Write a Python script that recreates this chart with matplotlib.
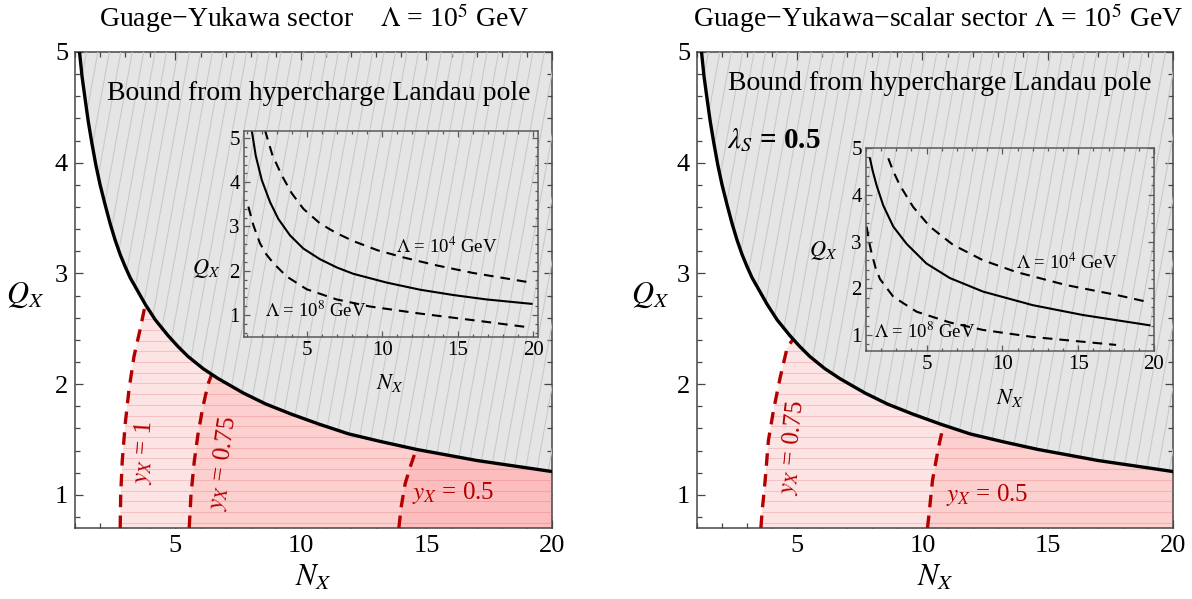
import numpy as np
import matplotlib
matplotlib.use("Agg")
import matplotlib.pyplot as plt
from matplotlib.patches import Polygon
from matplotlib.collections import LineCollection
from matplotlib.ticker import MultipleLocator

plt.rcParams['font.family'] = ['Liberation Serif', 'DejaVu Serif']
plt.rcParams['mathtext.fontset'] = 'stix'
plt.rcParams['lines.scale_dashes'] = False

# ---------------------------------------------------------------- data
# hypercharge Landau-pole bound for Lambda = 1e5 GeV (main panels)
bound_N = [1.18, 1.28, 1.4, 1.53, 1.67, 1.83, 2.0, 2.2, 2.4, 2.6, 2.8, 3.0, 3.2, 3.5, 3.8,
           4.2, 4.7, 5.1, 5.5, 6.1, 6.7, 7.7, 8.6, 9.6, 10.7, 11.9, 13.2, 14.6, 15.8,
           17.0, 18.5, 20.0]
bound_Q = [5.0, 4.78, 4.58, 4.37, 4.18, 3.98, 3.8, 3.62, 3.45, 3.3, 3.17, 3.06, 2.96, 2.84, 2.72,
           2.58, 2.44, 2.34, 2.25, 2.14, 2.05, 1.92, 1.82, 1.73, 1.64, 1.55, 1.48, 1.41, 1.36,
           1.31, 1.26, 1.21]

# Yukawa contours, gauge-Yukawa sector
gy_labels = ['1', '0.75', '0.5']
gy_N = [[2.8, 2.82, 2.88, 3.0, 3.15, 3.35, 3.6, 3.8],
        [5.55, 5.62, 5.75, 5.9, 6.1, 6.3, 6.45],
        [13.9, 14.0, 14.15, 14.35, 14.5, 14.6]]
gy_Q = [[0.7, 1.0, 1.3, 1.64, 1.95, 2.25, 2.5, 2.72],
        [0.7, 1.0, 1.3, 1.55, 1.8, 2.0, 2.09],
        [0.7, 0.9, 1.1, 1.25, 1.35, 1.41]]

# Yukawa contours, gauge-Yukawa-scalar sector (lambda_S = 0.5)
gys_labels = ['0.75', '0.5']
gys_N = [[3.55, 3.6, 3.72, 3.85, 4.05, 4.32, 4.6, 4.85],
         [10.2, 10.25, 10.4, 10.64, 10.84]]
gys_Q = [[0.7, 0.85, 1.13, 1.49, 1.76, 2.06, 2.33, 2.41],
         [0.7, 0.8, 1.13, 1.43, 1.63]]

# insets: Landau-pole bound for three cut-off scales
insL_mid_N = [1.33, 1.6, 2.0, 2.55, 3.1, 3.87, 4.76, 5.86, 7.0, 8.07, 10.3, 12.5, 14.7, 16.9, 19.9]
insL_mid_Q = [5.18, 4.6, 4.05, 3.55, 3.17, 2.8, 2.5, 2.26, 2.07, 1.93, 1.73, 1.57, 1.45, 1.35, 1.25]
insL_hi_N = [2.21, 2.7, 3.32, 3.99, 4.76, 5.86, 6.9, 8.07, 9.7, 11.4, 13.6, 16.0, 19.7]
insL_hi_Q = [5.18, 4.62, 4.16, 3.75, 3.4, 3.07, 2.86, 2.67, 2.46, 2.3, 2.12, 1.95, 1.74]
insL_lo_N = [1.11, 1.44, 1.88, 2.3, 2.77, 3.65, 4.98, 6.97, 9.18, 12.5, 16.5, 19.7]
insL_lo_Q = [3.45, 3.03, 2.62, 2.37, 2.17, 1.87, 1.58, 1.35, 1.19, 1.03, 0.86, 0.72]

insR_mid_N = [1.26, 1.45, 1.70, 2.14, 2.80, 3.68, 4.99, 6.53, 8.72, 12.0, 15.3, 19.7]
insR_mid_Q = [4.78, 4.5, 4.2, 3.77, 3.32, 2.95, 2.53, 2.22, 1.93, 1.64, 1.43, 1.21]
insR_hi_N = [2.47, 2.8, 3.24, 4.11, 5.21, 6.74, 8.72, 10.9, 14.2, 17.5, 19.7]
insR_hi_Q = [4.78, 4.5, 4.2, 3.74, 3.32, 2.93, 2.60, 2.35, 2.07, 1.86, 1.70]
insR_lo_N = [1.04, 1.2, 1.37, 1.62, 1.92, 2.80, 4.34, 6.53, 8.72, 12.0, 17.5]
insR_lo_Q = [3.32, 3.0, 2.75, 2.45, 2.2, 1.82, 1.5, 1.27, 1.11, 0.96, 0.79]

x_ticks = [5, 10, 15, 20]
y_ticks = [1, 2, 3, 4, 5]

# ---------------------------------------------------------------- style
W, H = 1192, 599
RED = '#b30000'
GRAY_FILL = '#e5e5e5'
GRAY_LINE = '#c8c8c8'
PINKS = ['#fde4e4', '#fdd0d0', '#fbbdbd']
FRAME = '#454545'
YLIM = (0.7, 4.965)
XLIM = (1, 20)


def box(l, t, r, b):
    return [l / W, 1 - b / H, (r - l) / W, (b - t) / H]


def style_frame(ax, major_len, minor_len, labelsize, pad, color=FRAME):
    for s in ax.spines.values():
        s.set_color(color)
        s.set_linewidth(1.1)
    ax.tick_params(which='both', direction='in', top=True, right=True,
                   colors=color, labelcolor='black', width=0.9)
    ax.tick_params(which='major', length=major_len, labelsize=labelsize, pad=pad)
    ax.tick_params(which='minor', length=minor_len)


def stripes(ax, clip, kind, spacing, color, lw, alpha=1.0):
    segs = []
    if kind == 'diag':
        slope = 5.5
        x0 = -1.0 / slope - spacing
        while x0 < 1.0 + spacing:
            segs.append([(x0, 0.0), (x0 + 1.0 / slope, 1.0)])
            x0 += spacing
    else:
        y0 = spacing / 2
        while y0 < 1.0:
            segs.append([(0.0, y0), (1.0, y0)])
            y0 += spacing
    lc = LineCollection(segs, transform=ax.transAxes, colors=color,
                        linewidths=lw, alpha=alpha, zorder=3.5)
    ax.add_collection(lc)
    lc.set_clip_path(clip)


def main_panel(ax, cont_N, cont_Q, labels):
    ax.set_xlim(*XLIM)
    ax.set_ylim(*YLIM)
    bN = np.asarray(bound_N)
    bQ = np.asarray(bound_Q)
    top = 6.0
    # excluded region above the bound
    gray = Polygon(np.column_stack([np.r_[bN, bN[-1] + 1, bN[0]],
                                    np.r_[bQ, top, top]]),
                   closed=True, facecolor=GRAY_FILL, edgecolor='none', zorder=1)
    ax.add_patch(gray)
    stripes(ax, gray, 'diag', 0.024, GRAY_LINE, 0.75)

    # allowed regions for each Yukawa value
    first_patch = None
    for i, (cn, cq) in enumerate(zip(cont_N, cont_Q)):
        cn = np.asarray(cn)
        cq = np.asarray(cq)
        keep = bN > cn[-1]
        xs = np.r_[cn, bN[keep], bN[-1] + 1, bN[-1] + 1, cn[0]]
        ys = np.r_[cq, bQ[keep], bQ[-1], -1, -1]
        p = Polygon(np.column_stack([xs, ys]), closed=True,
                    facecolor=PINKS[i], edgecolor='none', zorder=2 + 0.2 * i)
        ax.add_patch(p)
        if first_patch is None:
            first_patch = p
    stripes(ax, first_patch, 'horiz', 0.0225, '#e06a6a', 0.75, alpha=0.28)

    for cn, cq in zip(cont_N, cont_Q):
        ax.plot(cn, cq, color=RED, lw=2.4, dashes=(9, 6), zorder=4,
                dash_capstyle='butt')

    ax.plot(bN, bQ, color='black', lw=2.4, zorder=5, solid_joinstyle='round')

    ax.set_xticks(x_ticks)
    ax.set_yticks(y_ticks)
    ax.xaxis.set_minor_locator(MultipleLocator(1))
    ax.yaxis.set_minor_locator(MultipleLocator(0.2))
    style_frame(ax, 6, 3.5, 19, 5)
    ax.set_facecolor('white')


def inset(ax, xlim, ylim, mid, hi, lo, hi_pos, lo_pos, q_pos, n_pos):
    ax.set_facecolor('none')
    ax.set_xlim(*xlim)
    ax.set_ylim(*ylim)
    ax.plot(mid[0], mid[1], color='black', lw=1.5)
    ax.plot(hi[0], hi[1], color='black', lw=1.5, dashes=(7, 5))
    ax.plot(lo[0], lo[1], color='black', lw=1.5, dashes=(7, 5))
    ax.set_xticks(x_ticks)
    ax.set_yticks(y_ticks)
    ax.xaxis.set_minor_locator(MultipleLocator(1))
    ax.yaxis.set_minor_locator(MultipleLocator(0.2))
    style_frame(ax, 4, 2.2, 15, 3, color='#5a5a5a')
    fig.text(hi_pos[0] / W, 1 - hi_pos[1] / H, r'$\Lambda$ = 10$^4$ GeV',
             ha='center', va='center', fontsize=13.5)
    fig.text(lo_pos[0] / W, 1 - lo_pos[1] / H, r'$\Lambda$ = 10$^8$ GeV',
             ha='center', va='center', fontsize=13.5)
    fig.text(q_pos[0] / W, 1 - q_pos[1] / H, r'$Q_X$', ha='center', va='center', fontsize=16)
    fig.text(n_pos[0] / W, 1 - n_pos[1] / H, r'$N_X$', ha='center', va='center', fontsize=16)


fig = plt.figure(figsize=(W / 100, H / 100), dpi=100)

axL = fig.add_axes(box(75, 52, 552, 528))
axR = fig.add_axes(box(697, 52, 1173, 528))
main_panel(axL, gy_N, gy_Q, gy_labels)
main_panel(axR, gys_N, gys_Q, gys_labels)

insL = fig.add_axes(box(244, 131, 538, 337))
insR = fig.add_axes(box(866, 148, 1154, 351))
inset(insL, (0.82, 20.33), (0.50, 5.16),
      (insL_mid_N, insL_mid_Q), (insL_hi_N, insL_hi_Q), (insL_lo_N, insL_lo_Q),
      (447, 247), (316, 311), (206, 268), (390, 383))
inset(insR, (1.0, 20.0), (0.66, 5.0),
      (insR_mid_N, insR_mid_Q), (insR_hi_N, insR_hi_Q), (insR_lo_N, insR_lo_Q),
      (1067, 263), (925, 332), (823, 250), (1010, 398))


def ftxt(x, y, s, **kw):
    return fig.text(x / W, 1 - y / H, s, **kw)


# titles
ftxt(314, 18, 'Guage\u2212Yukawa sector    $\\Lambda$ = 10$^5$ GeV',
     ha='center', va='center', fontsize=20)
ftxt(1183, 18, 'Guage\u2212Yukawa\u2212scalar sector $\\Lambda$ = 10$^5$ GeV',
     ha='right', va='center', fontsize=20)

# axis labels
for x in (25, 650):
    ftxt(x, 295, r'$Q_X$', ha='center', va='center', fontsize=22)
for x in (313, 935):
    ftxt(x, 578, r'$N_X$', ha='center', va='center', fontsize=22)

# region annotations
ftxt(107, 93, 'Bound from hypercharge Landau pole', ha='left', va='center', fontsize=20)
ftxt(728, 83, 'Bound from hypercharge Landau pole', ha='left', va='center', fontsize=20)
ftxt(727, 140, r'$\boldsymbol{\lambda_S}$ = 0.5', ha='left', va='center',
     fontsize=21, fontweight='bold')

# Yukawa contour labels
lab_kw = dict(ha='center', va='center', fontsize=18, color=RED)
ftxt(143, 453, r'$y_X$ = ' + gy_labels[0], rotation=86, **lab_kw)
ftxt(223, 463, r'$y_X$ = ' + gy_labels[1], rotation=82, **lab_kw)
ftxt(453, 493, r'$y_X$ = ' + gy_labels[2], **lab_kw)
ftxt(792, 447, r'$y_X$ = ' + gys_labels[0], rotation=84, **lab_kw)
ftxt(987, 495, r'$y_X$ = ' + gys_labels[1], **lab_kw)

fig.savefig('out.png', dpi=100)
